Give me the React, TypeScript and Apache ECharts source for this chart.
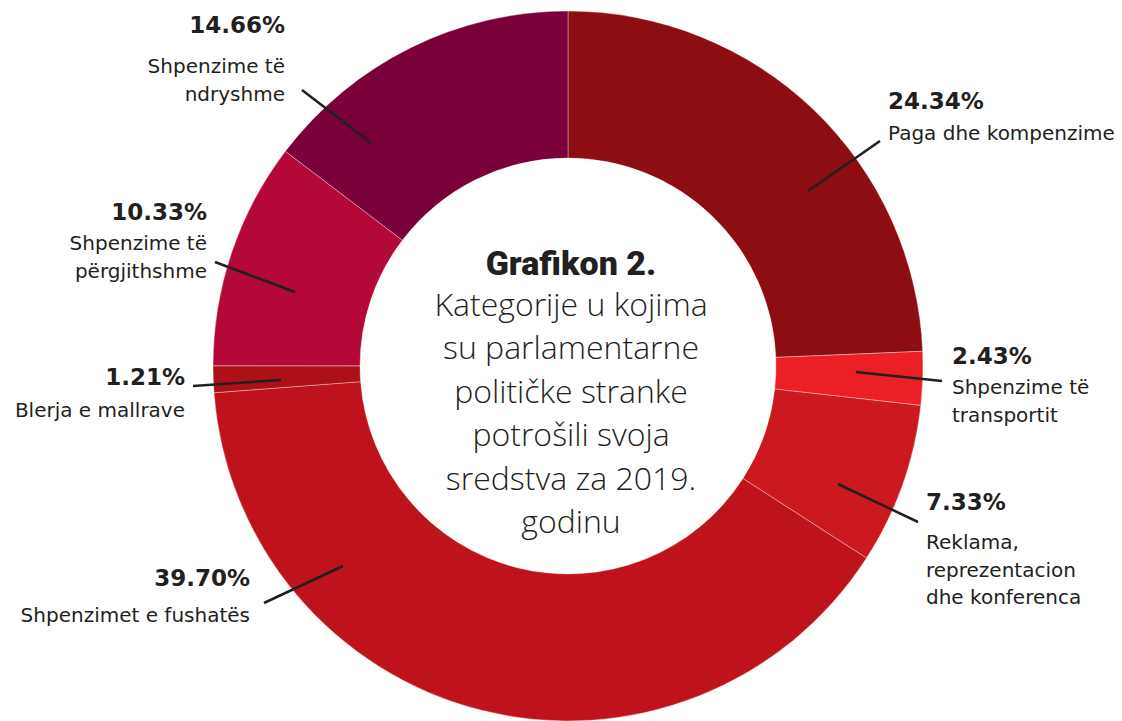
import React, { useEffect, useRef } from "react";
import * as echarts from "echarts";

const categories = [
  "Paga dhe kompenzime",
  "Shpenzime të\ntransportit",
  "Reklama,\nreprezentacion\ndhe konferenca",
  "Shpenzimet e fushatës",
  "Blerja e mallrave",
  "Shpenzime të\npërgjithshme",
  "Shpenzime të\nndryshme",
];
const values = [24.34, 2.43, 7.33, 39.7, 1.21, 10.33, 14.66];
const colors = ["#8C0E12", "#EC1F27", "#CC181F", "#BE131C", "#AD1016", "#B30838", "#7A003A"];
const titleText = "Grafikon 2.";
const subtitleLines = [
  "Kategorije u kojima",
  "su parlamentarne",
  "političke stranke",
  "potrošili svoja",
  "sredstva za 2019.",
  "godinu",
];

// label layout: [textX, pctY, align, gap, line x1, y1, x2, y2]
const labelLayout: [number, number, string, number, number, number, number, number][] = [
  [888, 101, "left", 32, 880, 141, 808, 191],
  [952, 356, "left", 31, 942, 381, 856, 372],
  [926, 502, "left", 40, 918, 522, 838, 484],
  [250, 578, "right", 37, 264, 603, 343, 566],
  [185, 377, "right", 33, 193, 386, 281, 380],
  [207, 212, "right", 31, 215, 262, 295, 292],
  [285, 25, "right", 41, 302, 90, 371, 143],
];

const ink = "#231F20";

export default function App() {
  const ref = useRef<HTMLDivElement>(null);
  useEffect(() => {
    document.body.style.margin = "0";
    const chart = echarts.init(ref.current!, null, { renderer: "svg" });
    const graphics: any[] = [];
    values.forEach((v, i) => {
      const [tx, ty, align, gap, x1, y1, x2, y2] = labelLayout[i];
      graphics.push({
        type: "text",
        x: tx,
        y: ty,
        z: 100,
        style: {
          text: v.toFixed(2) + "%",
          font: "bold 23px 'DejaVu Sans'",
          fill: ink,
          align,
          textAlign: align,
          verticalAlign: "middle",
          textVerticalAlign: "middle",
        },
      });
      graphics.push({
        type: "text",
        x: tx,
        y: ty + gap - 13.75,
        z: 100,
        style: {
          text: categories[i],
          font: "20px 'DejaVu Sans'",
          lineHeight: 27.5,
          fill: ink,
          align,
          textAlign: align,
          verticalAlign: "top",
          textVerticalAlign: "top",
        },
      });
      graphics.push({
        type: "line",
        z: 100,
        shape: { x1, y1, x2, y2 },
        style: { stroke: ink, lineWidth: 2.5 },
      });
    });
    graphics.push({
      type: "text",
      x: 571,
      y: 263,
      z: 100,
      style: {
        text: titleText,
        font: "900 34px Roboto",
        fill: ink,
        align: "center",
        textAlign: "center",
        verticalAlign: "middle",
        textVerticalAlign: "middle",
      },
    });
    subtitleLines.forEach((line, i) => {
      graphics.push({
        type: "text",
        x: 571,
        y: 303 + i * 43.5,
        z: 100,
        style: {
          text: line,
          font: "300 32px 'Open Sans'",
          fill: ink,
          align: "center",
          textAlign: "center",
          verticalAlign: "middle",
          textVerticalAlign: "middle",
        },
      });
    });
    chart.setOption({
      animation: false,
      backgroundColor: "#ffffff",
      series: [
        {
          type: "pie",
          center: [568, 366],
          radius: [208, 355],
          startAngle: 90,
          clockwise: true,
          label: { show: false },
          labelLine: { show: false },
          emphasis: { disabled: true },
          itemStyle: { borderColor: "rgba(255,255,255,0.35)", borderWidth: 1 },
          data: values.map((v, i) => ({
            name: categories[i],
            value: v,
            itemStyle: { color: colors[i] },
          })),
        },
      ],
      graphic: graphics,
    });
    return () => chart.dispose();
  }, []);
  return <div ref={ref} style={{ width: 1122, height: 721 }} />;
}
